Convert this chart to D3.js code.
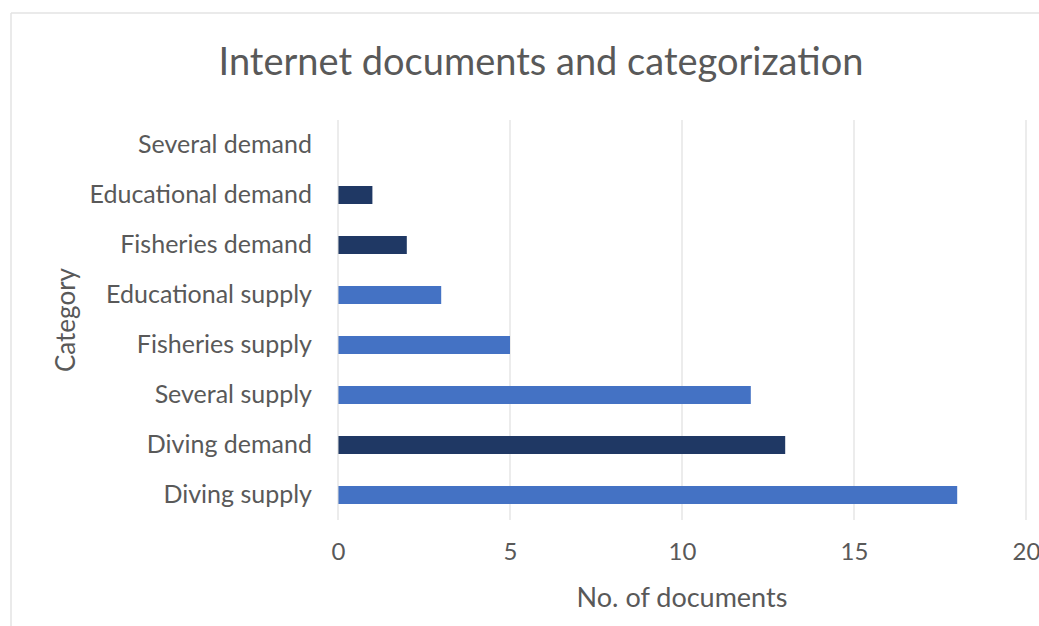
<!DOCTYPE html>
<html lang="en">
<head>
<meta charset="utf-8">
<title>Internet documents and categorization</title>
<script src="https://cdn.jsdelivr.net/npm/d3@7"></script>
<style>
  body { margin: 0; background: #fff; }
  text { font-family: Lato, "Open Sans", sans-serif; fill: #595959; }
</style>
</head>
<body>
<div id="chart"></div>
<script>
// categories top to bottom
var categories = ["Several demand", "Educational demand", "Fisheries demand", "Educational supply",
                  "Fisheries supply", "Several supply", "Diving demand", "Diving supply"];
var values = [0, 1, 2, 3, 5, 12, 13, 18];
var kinds = ["demand", "demand", "demand", "supply", "supply", "supply", "demand", "supply"];
var xTicks = [0, 5, 10, 15, 20];

var w = 1039, h = 626;
var colors = { supply: "#4472c4", demand: "#1f3864" };

var svg = d3.select("#chart").append("svg")
    .attr("width", w).attr("height", h);

// faint frame of the chart area
svg.append("line").attr("x1", 11).attr("x2", w).attr("y1", 13).attr("y2", 13)
    .attr("stroke", "#e3e3e3").attr("stroke-width", 1.5);
svg.append("line").attr("x1", 11).attr("x2", 11).attr("y1", 13).attr("y2", h)
    .attr("stroke", "#e3e3e3").attr("stroke-width", 1.5);

var x = d3.scaleLinear().domain([0, 20]).range([338, 1026]);
var y = d3.scaleBand().domain(categories).range([120, 520]).paddingInner(0.64).paddingOuter(0.32);

// gridlines
svg.append("g").selectAll("line")
    .data(xTicks.slice(1))
    .enter().append("line")
    .attr("x1", function(d) { return x(d); })
    .attr("x2", function(d) { return x(d); })
    .attr("y1", 120).attr("y2", 520)
    .attr("stroke", "#d9d9d9").attr("stroke-width", 1);

// bars
svg.append("g").selectAll("rect")
    .data(categories)
    .enter().append("rect")
    .attr("x", x(0))
    .attr("y", function(d) { return y(d); })
    .attr("width", function(d, i) { return x(values[i]) - x(0); })
    .attr("height", y.bandwidth())
    .attr("fill", function(d, i) { return colors[kinds[i]]; });

// category axis line
svg.append("line").attr("x1", x(0)).attr("x2", x(0)).attr("y1", 120).attr("y2", 520)
    .attr("stroke", "#d9d9d9").attr("stroke-width", 1);

// y axis labels
var yAxis = svg.append("g")
    .attr("transform", "translate(" + (x(0) - 26) + ",0)")
    .call(d3.axisLeft(y).tickSize(0).tickPadding(0));
yAxis.select(".domain").remove();
yAxis.selectAll("text").style("font-size", "25px").attr("fill", "#595959")
    .style("font-family", "Lato, 'Open Sans', sans-serif");

// x axis labels
var xAxis = svg.append("g")
    .attr("transform", "translate(0,543)")
    .call(d3.axisBottom(x).tickValues(xTicks).tickSize(0).tickPadding(0));
xAxis.select(".domain").remove();
xAxis.selectAll("text").style("font-size", "24px").attr("fill", "#595959")
    .style("font-family", "Lato, 'Open Sans', sans-serif");

// title
svg.append("text")
    .attr("x", 541).attr("y", 75)
    .attr("text-anchor", "middle")
    .style("font-size", "38px")
    .text("Internet documents and categorization");

// axis titles
svg.append("text")
    .attr("x", 682).attr("y", 607)
    .attr("text-anchor", "middle")
    .style("font-size", "27px")
    .text("No. of documents");

svg.append("text")
    .attr("transform", "translate(75,320) rotate(-90)")
    .attr("text-anchor", "middle")
    .style("font-size", "26px")
    .text("Category");
</script>
</body>
</html>
